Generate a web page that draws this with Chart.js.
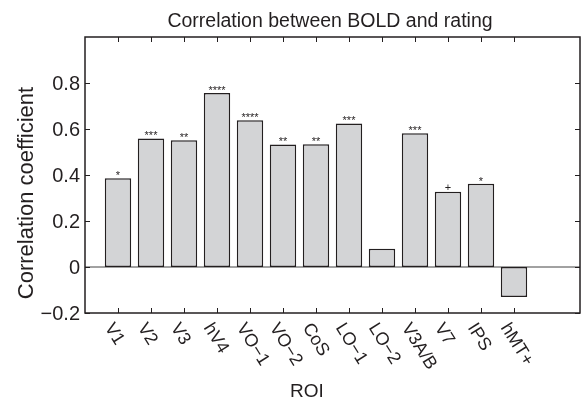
<!DOCTYPE html>
<html>
<head>
<meta charset="utf-8">
<script src="https://cdn.jsdelivr.net/npm/chart.js@4/dist/chart.umd.min.js"></script>
<style>
  html, body { margin: 0; padding: 0; background: #fff; }
  #wrap { width: 586px; height: 404px; position: relative; }
</style>
</head>
<body>
<div id="wrap"><canvas id="c"></canvas></div>
<script>
// ── data ─────────────────────────────────────────────────────────────────
const rois    = ['V1', 'V2', 'V3', 'hV4', 'VO\u22121', 'VO\u22122', 'CoS', 'LO\u22121', 'LO\u22122', 'V3A/B', 'V7', 'IPS', 'hMT+'];
const corrs   = [0.386, 0.559, 0.551, 0.757, 0.638, 0.533, 0.534, 0.624, 0.079, 0.582, 0.327, 0.362, -0.13];
const sigMarks = ['*', '***', '**', '****', '****', '**', '**', '***', '', '***', '+', '*', ''];
const yTicks  = [-0.2, 0, 0.2, 0.4, 0.6, 0.8];

// x axis runs 0..15 like the matlab xlim, rois sit on 1..13
const labels = [''].concat(rois, ['', '']);
const values = [null].concat(corrs, [null, null]);

const INK = '#231f20';
const FONT = '"Liberation Sans", Arial, Helvetica, sans-serif';

// frame, inward ticks, labels — matlab-style axes
const axesPlugin = {
  id: 'matlabAxes',
  beforeDatasetsDraw(chart) {
    const { ctx, chartArea: a, scales: { y } } = chart;
    const y0 = y.getPixelForValue(0);
    ctx.save();
    ctx.strokeStyle = '#444';
    ctx.lineWidth = 1;
    ctx.beginPath();
    ctx.moveTo(a.left, y0);
    ctx.lineTo(a.right, y0);
    ctx.stroke();
    ctx.restore();
  },
  afterDatasetsDraw(chart) {
    const { ctx, chartArea: a, scales: { x, y } } = chart;
    const meta = chart.getDatasetMeta(0);
    ctx.save();

    // significance marks above bars
    ctx.fillStyle = INK;
    ctx.font = '11px ' + FONT;
    ctx.textAlign = 'center';
    ctx.textBaseline = 'alphabetic';
    sigMarks.forEach((s, i) => {
      if (!s) return;
      const bar = meta.data[i + 1];
      ctx.fillText(s, bar.x, bar.y + (s === '+' ? -1 : 1));
    });

    // box
    ctx.strokeStyle = INK;
    ctx.lineWidth = 1.5;
    ctx.strokeRect(a.left, a.top, a.right - a.left, a.bottom - a.top);

    // ticks pointing in
    const tl = 5;
    ctx.lineWidth = 1;
    ctx.beginPath();
    rois.forEach((_, i) => {
      const px = Math.round(x.getPixelForValue(i + 1)) + 0.5;
      ctx.moveTo(px, a.bottom); ctx.lineTo(px, a.bottom - tl);
      ctx.moveTo(px, a.top);    ctx.lineTo(px, a.top + tl);
    });
    yTicks.forEach(v => {
      const py = Math.round(y.getPixelForValue(v)) + 0.5;
      ctx.moveTo(a.left, py);  ctx.lineTo(a.left + tl, py);
      ctx.moveTo(a.right, py); ctx.lineTo(a.right - tl, py);
    });
    ctx.stroke();

    // y tick labels
    ctx.fillStyle = INK;
    ctx.font = '20px ' + FONT;
    ctx.textAlign = 'right';
    ctx.textBaseline = 'middle';
    yTicks.forEach(v => {
      const txt = v < 0 ? '\u2212' + Math.abs(v).toFixed(1) : (v === 0 ? '0' : v.toFixed(1));
      ctx.fillText(txt, a.left - 5, y.getPixelForValue(v) + 1);
    });

    // x tick labels, rotated clockwise
    ctx.font = '18px ' + FONT;
    ctx.textAlign = 'left';
    ctx.textBaseline = 'top';
    const ang = 58 * Math.PI / 180;
    rois.forEach((r, i) => {
      ctx.save();
      ctx.translate(x.getPixelForValue(i + 1) - 2, a.bottom + 7);
      ctx.rotate(ang);
      ctx.fillText(r, 0, 0);
      ctx.restore();
    });

    // axis titles + title
    ctx.textAlign = 'center';
    ctx.textBaseline = 'alphabetic';
    ctx.font = '19px ' + FONT;
    ctx.fillText('ROI', 307, 397);

    ctx.save();
    ctx.translate(33, 193);
    ctx.rotate(-Math.PI / 2);
    ctx.font = '22px ' + FONT;
    ctx.fillText('Correlation coefficient', 0, 0);
    ctx.restore();

    ctx.font = '19.5px ' + FONT;
    ctx.fillText('Correlation between BOLD and rating', 330, 27);

    ctx.restore();
  },
};

new Chart(document.getElementById('c'), {
  type: 'bar',
  data: {
    labels,
    datasets: [{
      data: values,
      backgroundColor: '#d3d4d6',
      borderColor: INK,
      borderWidth: 1.5,
      borderSkipped: false,
      categoryPercentage: 1,
      barPercentage: 0.8,
    }],
  },
  options: {
    responsive: true,
    maintainAspectRatio: false,
    animation: false,
    layout: { padding: { left: 85, top: 37, right: 6, bottom: 91 } },
    plugins: { legend: { display: false }, tooltip: { enabled: false } },
    scales: {
      x: { display: false, offset: false },
      y: { display: false, min: -0.2, max: 1.0 },
    },
  },
  plugins: [axesPlugin],
});
</script>
</body>
</html>
